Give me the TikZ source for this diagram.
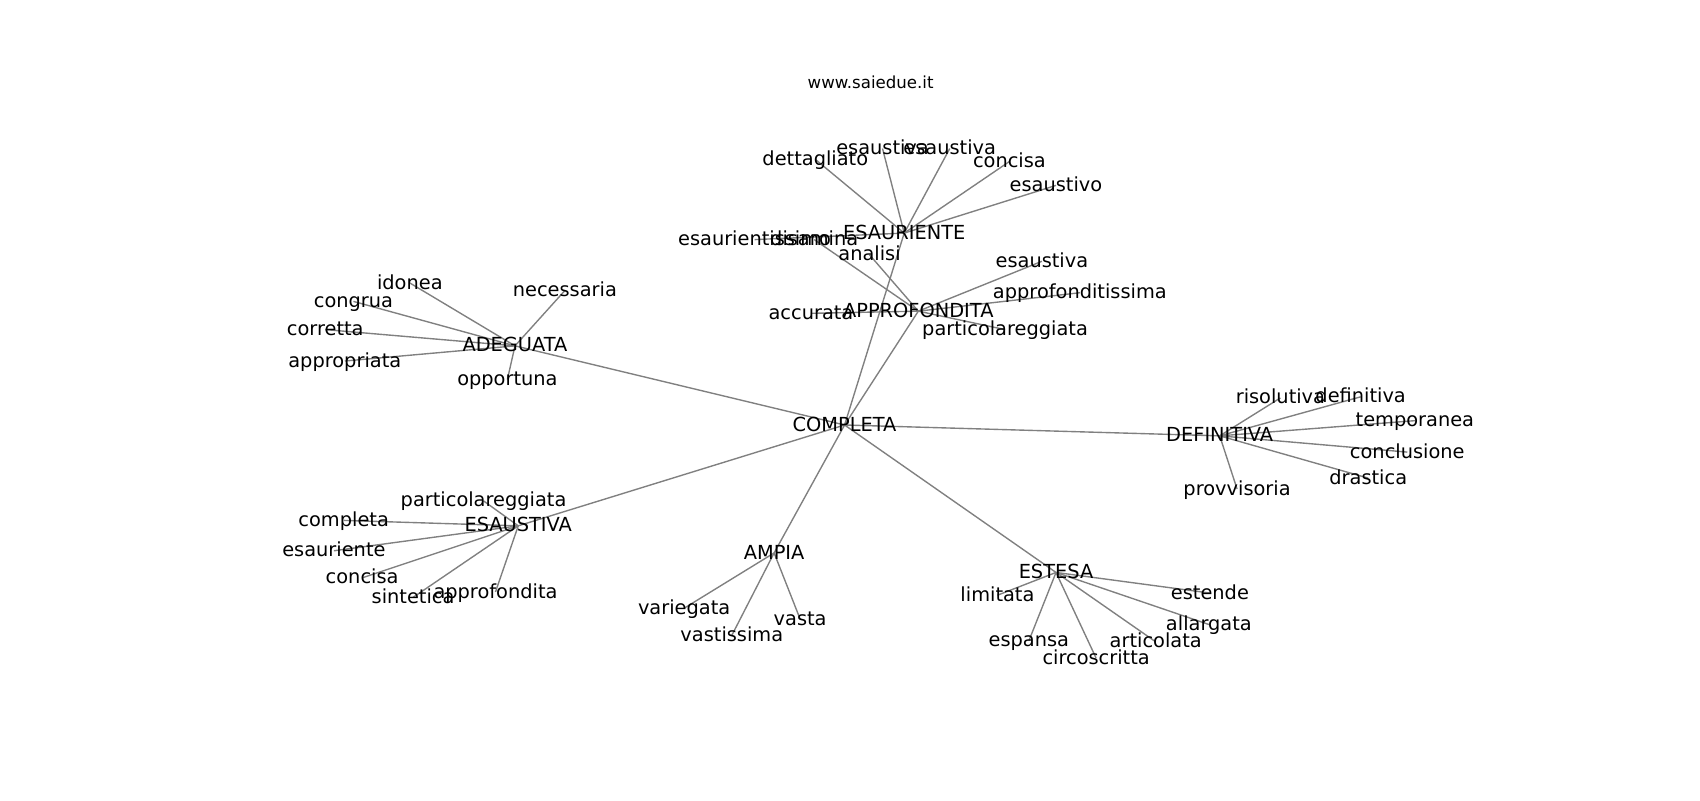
\documentclass[tikz,border=0pt]{standalone}
\usepackage{fontspec}
\setmainfont{DejaVu Sans}
\usepackage{tikz}
\usetikzlibrary{backgrounds}
\tikzstyle{word} = [inner sep=0pt, text height=1.1em, text depth=0.22em, font=\fontsize{14}{16}\selectfont]
\tikzstyle{heading} = [inner sep=0pt, font=\fontsize{12}{14}\selectfont]
\tikzstyle{link} = [draw=gray, line width=1pt]

\begin{document}
\begin{tikzpicture}[x=0.027538cm, y=-0.027538cm]

	\useasboundingbox (0,0) rectangle (1568,738);

	\node (title)[heading] at (803,76) {www.saiedue.it};

	% main words
	\node (completa)[word] at (779,392) {COMPLETA};
	\node (esauriente)[word] at (834,215) {ESAURIENTE};
	\node (approfondita)[word] at (847,287) {APPROFONDITA};
	\node (adeguata)[word] at (475,319) {ADEGUATA};
	\node (definitiva)[word] at (1125,402) {DEFINITIVA};
	\node (esaustiva)[word] at (478,485) {ESAUSTIVA};
	\node (ampia)[word] at (714,510) {AMPIA};
	\node (estesa)[word] at (974,528) {ESTESA};

	% ESAURIENTE
	\node (esDettagliato)[word] at (752,147) {dettagliato};
	\node (esEsaustivaA)[word] at (814,137) {esaustiva};
	\node (esEsaustivaB)[word] at (876,137) {esaustiva};
	\node (esConcisa)[word] at (931,149) {concisa};
	\node (esEsaustivo)[word] at (974,171) {esaustivo};
	\node (esEsaurientissimo)[word] at (696,221) {esaurientissimo};

	% APPROFONDITA
	\node (apDisamina)[word] at (751,221) {disamina};
	\node (apAnalisi)[word] at (802,235) {analisi};
	\node (apAccurata)[word] at (748,289) {accurata};
	\node (apEsaustiva)[word] at (961,241) {esaustiva};
	\node (apApprofonditissima)[word] at (996,270) {approfonditissima};
	\node (apParticolareggiata)[word] at (927,304) {particolareggiata};

	% ADEGUATA
	\node (adIdonea)[word] at (378,261) {idonea};
	\node (adCongrua)[word] at (326,278) {congrua};
	\node (adCorretta)[word] at (300,304) {corretta};
	\node (adAppropriata)[word] at (318,333) {appropriata};
	\node (adNecessaria)[word] at (521,268) {necessaria};
	\node (adOpportuna)[word] at (468,350) {opportuna};

	% DEFINITIVA
	\node (deRisolutiva)[word] at (1181,367) {risolutiva};
	\node (deDefinitiva)[word] at (1255,366) {definitiva};
	\node (deTemporanea)[word] at (1305,388) {temporanea};
	\node (deConclusione)[word] at (1298,417) {conclusione};
	\node (deDrastica)[word] at (1262,441) {drastica};
	\node (deProvvisoria)[word] at (1141,451) {provvisoria};

	% ESAUSTIVA
	\node (euParticolareggiata)[word] at (446,462) {particolareggiata};
	\node (euCompleta)[word] at (317,480) {completa};
	\node (euEsauriente)[word] at (308,508) {esauriente};
	\node (euConcisa)[word] at (334,533) {concisa};
	\node (euSintetica)[word] at (381,551) {sintetica};
	\node (euApprofondita)[word] at (457,546) {approfondita};

	% AMPIA
	\node (amVariegata)[word] at (631,561) {variegata};
	\node (amVastissima)[word] at (675,586) {vastissima};
	\node (amVasta)[word] at (738,571) {vasta};

	% ESTESA
	\node (etLimitata)[word] at (920,549) {limitata};
	\node (etEstende)[word] at (1116,547) {estende};
	\node (etAllargata)[word] at (1115,576) {allargata};
	\node (etArticolata)[word] at (1066,592) {articolata};
	\node (etCircoscritta)[word] at (1011,607) {circoscritta};
	\node (etEspansa)[word] at (949,591) {espansa};

	\begin{scope}[on background layer]
	\foreach \hub in {esauriente, approfondita, adeguata, definitiva, esaustiva, ampia, estesa}
		\draw [link] (completa.center) -- (\hub.center);

	\foreach \leaf in {esDettagliato, esEsaustivaA, esEsaustivaB, esConcisa, esEsaustivo, esEsaurientissimo}
		\draw [link] (esauriente.center) -- (\leaf.center);

	\foreach \leaf in {apDisamina, apAnalisi, apAccurata, apEsaustiva, apApprofonditissima, apParticolareggiata}
		\draw [link] (approfondita.center) -- (\leaf.center);

	\foreach \leaf in {adIdonea, adCongrua, adCorretta, adAppropriata, adNecessaria, adOpportuna}
		\draw [link] (adeguata.center) -- (\leaf.center);

	\foreach \leaf in {deRisolutiva, deDefinitiva, deTemporanea, deConclusione, deDrastica, deProvvisoria}
		\draw [link] (definitiva.center) -- (\leaf.center);

	\foreach \leaf in {euParticolareggiata, euCompleta, euEsauriente, euConcisa, euSintetica, euApprofondita}
		\draw [link] (esaustiva.center) -- (\leaf.center);

	\foreach \leaf in {amVariegata, amVastissima, amVasta}
		\draw [link] (ampia.center) -- (\leaf.center);

	\foreach \leaf in {etLimitata, etEstende, etAllargata, etArticolata, etCircoscritta, etEspansa}
		\draw [link] (estesa.center) -- (\leaf.center);
	\end{scope}

\end{tikzpicture}
\end{document}
